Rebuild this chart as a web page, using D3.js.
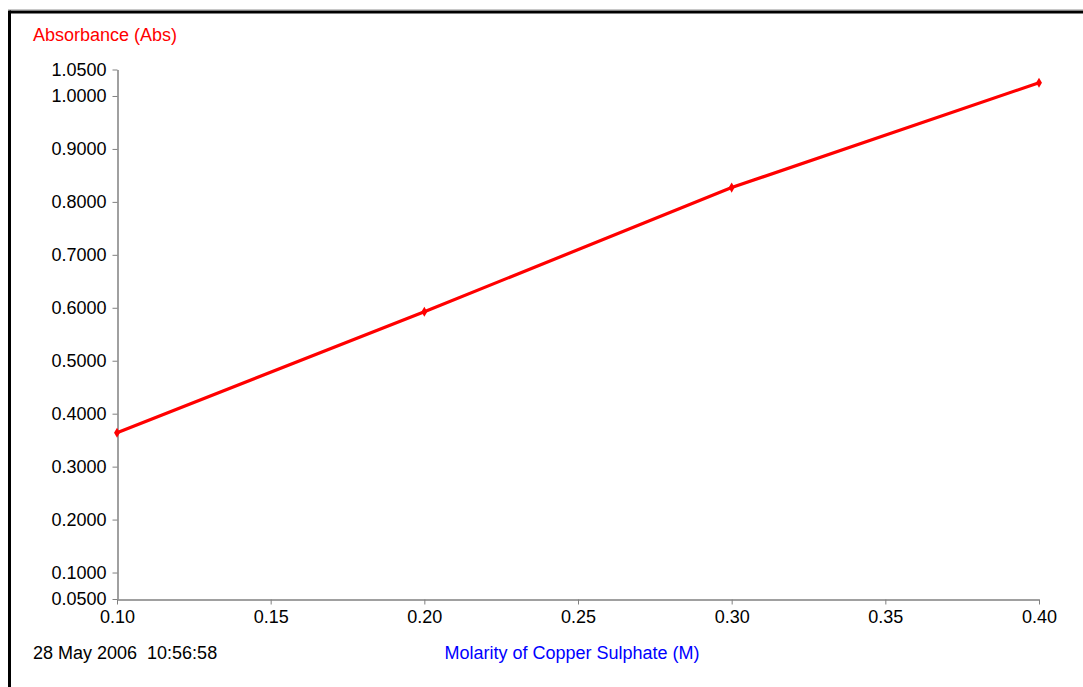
<!DOCTYPE html>
<html><head><meta charset="utf-8">
<script src="https://cdn.jsdelivr.net/npm/d3@7"></script>
<style>body{margin:0;background:#fff}svg{display:block}text{font-family:"Liberation Sans",Arial,sans-serif}</style>
</head><body>
<svg id="c" width="1083" height="687"></svg>
<script>
const molarity = [0.10, 0.20, 0.30, 0.40];
const absorbance = [0.364, 0.5925, 0.827, 1.025];
const yTicks = [0.05, 0.1, 0.2, 0.3, 0.4, 0.5, 0.6, 0.7, 0.8, 0.9, 1.0, 1.05];
const xTicks = [0.10, 0.15, 0.20, 0.25, 0.30, 0.35, 0.40];

const FS = "18px";
const svg = d3.select("#c");
// frame
svg.append("line").attr("x1",8).attr("x2",1083).attr("y1",9.5).attr("y2",9.5).attr("stroke","#c8c8c8").attr("stroke-width",1);
svg.append("line").attr("x1",9.5).attr("x2",1083).attr("y1",12).attr("y2",12).attr("stroke","#000").attr("stroke-width",3);
svg.append("line").attr("x1",9.5).attr("x2",9.5).attr("y1",10.5).attr("y2",687).attr("stroke","#000").attr("stroke-width",3);

const x = d3.scaleLinear().domain([0.10,0.40]).range([117,1039]);
const y = d3.scaleLinear().domain([0.05,1.05]).range([599,69.5]);

const gx = svg.append("g").attr("transform","translate(0,599.5)")
  .call(d3.axisBottom(x).tickValues(xTicks).tickFormat(d3.format(".2f")).tickSize(5).tickSizeOuter(0));
const gy = svg.append("g").attr("transform","translate(117.5,0)")
  .call(d3.axisLeft(y).tickValues(yTicks).tickFormat(d3.format(".4f")).tickSize(5).tickSizeOuter(0));
[gx,gy].forEach(g=>{
  g.select(".domain").attr("stroke","#808080").attr("stroke-width",1.5);
  g.selectAll(".tick line").attr("stroke","#808080");
  g.selectAll(".tick text").attr("fill","#000").style("font-size",FS).style("font-family","'Liberation Sans',Arial,sans-serif");
});
gy.selectAll(".tick text").attr("x",-11);
gx.selectAll(".tick text").attr("y",11);

const pts = molarity.map((m,i)=>[m,absorbance[i]]);
svg.append("path").datum(pts)
  .attr("d", d3.line().x(d=>x(d[0])).y(d=>y(d[1])))
  .attr("fill","none").attr("stroke","#ff0000").attr("stroke-width",3.2);
svg.selectAll(".mk").data(pts).enter().append("path")
  .attr("d", d3.symbol().type(d3.symbolDiamond).size(30))
  .attr("transform", d=>`translate(${x(d[0])},${y(d[1])})`)
  .attr("fill","#ff0000");

svg.append("text").attr("x",33).attr("y",41).attr("fill","#ff0000").style("font-size",FS).text("Absorbance (Abs)");
svg.append("text").attr("x",572).attr("y",659).attr("text-anchor","middle").attr("fill","#0000ff").style("font-size",FS).text("Molarity of Copper Sulphate (M)");
svg.append("text").attr("x",33).attr("y",659).attr("fill","#000").style("font-size",FS).style("white-space","pre").text("28 May 2006  10:56:58");
</script>
</body></html>
